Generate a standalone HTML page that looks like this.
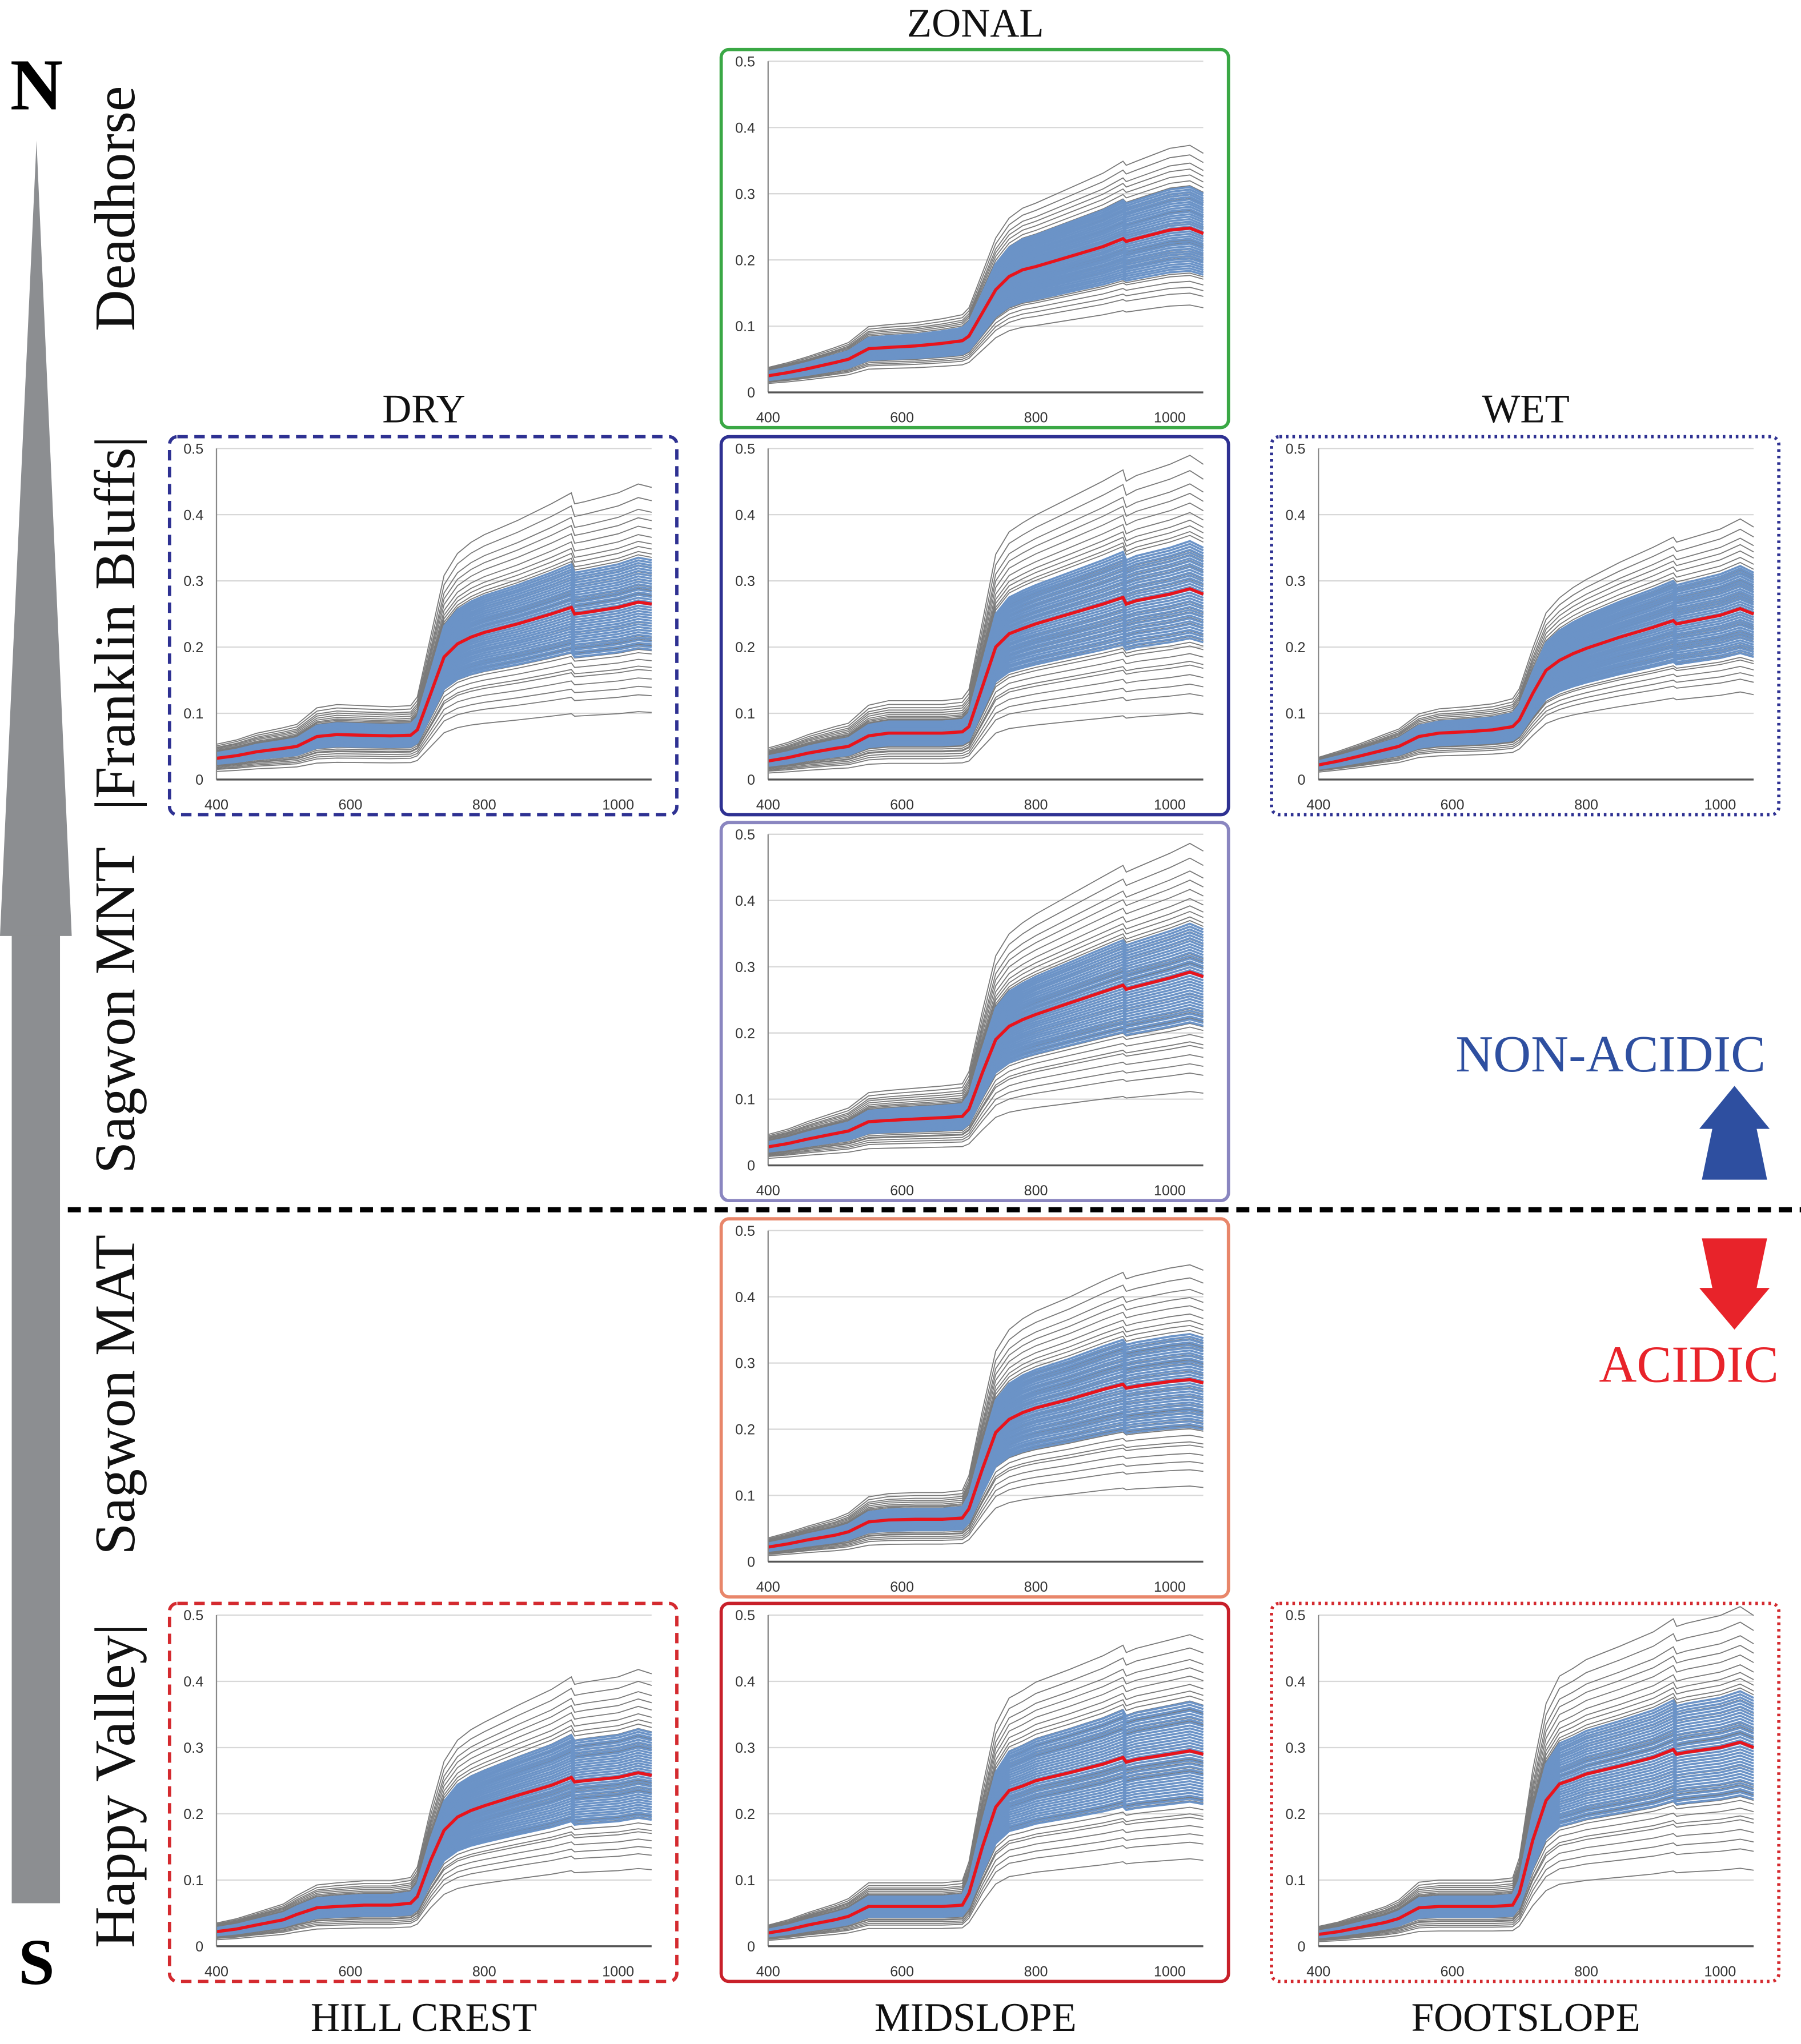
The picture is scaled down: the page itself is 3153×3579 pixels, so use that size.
<!DOCTYPE html>
<html><head><meta charset="utf-8"><style>
html,body{margin:0;padding:0;background:#fff}
svg{display:block}
</style></head><body>
<svg id="fig" xmlns="http://www.w3.org/2000/svg" width="3153" height="3579" viewBox="0 0 1381 1568" preserveAspectRatio="none">
<g>
<rect x="9" y="715" width="37" height="745" fill="#8c8e91"/>
<polygon points="0,718 55,718 28,108" fill="#8c8e91"/>
</g>
<text x="28" y="84" font-family="Liberation Serif, serif" font-weight="bold" font-size="56" text-anchor="middle">N</text>
<text x="28" y="1522" font-family="Liberation Serif, serif" font-weight="bold" font-size="50" text-anchor="middle">S</text>
<g font-family="Liberation Serif, serif" font-size="44" fill="#111" text-anchor="middle">
<text transform="translate(103,160) rotate(-90)">Deadhorse</text>
<text transform="translate(103,478) rotate(-90)">|Franklin Bluffs|</text>
<text transform="translate(103,775) rotate(-90)">Sagwon MNT</text>
<text transform="translate(103,1070) rotate(-90)">Sagwon MAT</text>
<text transform="translate(103,1370) rotate(-90)">Happy Valley|</text>
</g>
<g font-family="Liberation Serif, serif" font-size="31" fill="#111" text-anchor="middle">
<text x="748" y="28">ZONAL</text>
<text x="325" y="324">DRY</text>
<text x="1170" y="324">WET</text>
<text x="325" y="1558">HILL CREST</text>
<text x="748" y="1558">MIDSLOPE</text>
<text x="1170" y="1558">FOOTSLOPE</text>
</g>
<line x1="52" y1="928" x2="1381" y2="928" stroke="#000" stroke-width="4" stroke-dasharray="10,6"/>
<text x="1235" y="822" font-family="Liberation Serif, serif" font-size="40" fill="#2e4fa0" text-anchor="middle">NON-ACIDIC</text>
<polygon points="1330,833 1357,866 1347,866 1355,905 1305,905 1313,866 1303,866" fill="#2e4fa0"/>
<polygon points="1330,1020 1357,988 1347,988 1355,950 1305,950 1313,988 1303,988" fill="#e8232a"/>
<text x="1295" y="1060" font-family="Liberation Serif, serif" font-size="40" fill="#e8232a" text-anchor="middle">ACIDIC</text>
<g id="panels"></g>
</svg>
<script>
const wavelengths=[400,430,460,500,520,550,580,620,660,690,700,720,740,760,780,800,850,900,930,935,950,1000,1030,1050];
const redZonal=[0.025,0.03,0.036,0.045,0.05,0.066,0.068,0.07,0.074,0.078,0.085,0.12,0.155,0.175,0.185,0.19,0.205,0.22,0.232,0.228,0.232,0.245,0.248,0.24];
const redFbDry=[0.032,0.036,0.042,0.047,0.05,0.065,0.068,0.067,0.066,0.067,0.075,0.13,0.185,0.205,0.215,0.222,0.235,0.25,0.26,0.25,0.252,0.26,0.268,0.265];
const redFbMid=[0.028,0.033,0.04,0.047,0.05,0.066,0.07,0.07,0.07,0.072,0.08,0.14,0.2,0.22,0.228,0.235,0.25,0.265,0.275,0.265,0.27,0.28,0.288,0.28];
const redFbWet=[0.022,0.028,0.035,0.045,0.05,0.065,0.07,0.072,0.075,0.08,0.09,0.13,0.165,0.18,0.19,0.198,0.215,0.23,0.24,0.235,0.238,0.248,0.258,0.25];
const redMnt=[0.028,0.033,0.04,0.048,0.052,0.066,0.068,0.07,0.072,0.074,0.085,0.14,0.19,0.21,0.22,0.228,0.245,0.262,0.272,0.266,0.27,0.283,0.292,0.285];
const redMat=[0.022,0.027,0.033,0.04,0.045,0.06,0.063,0.064,0.064,0.066,0.08,0.14,0.195,0.215,0.225,0.232,0.245,0.26,0.268,0.262,0.265,0.272,0.275,0.27];
const redHvDry=[0.022,0.026,0.032,0.04,0.048,0.058,0.06,0.062,0.062,0.065,0.075,0.13,0.175,0.195,0.205,0.212,0.228,0.243,0.255,0.248,0.25,0.255,0.262,0.258];
const redHvMid=[0.02,0.025,0.032,0.04,0.045,0.06,0.06,0.06,0.06,0.062,0.08,0.15,0.21,0.235,0.242,0.25,0.262,0.275,0.285,0.278,0.282,0.29,0.295,0.29];
const redHvWet=[0.018,0.022,0.028,0.036,0.042,0.058,0.06,0.06,0.06,0.062,0.08,0.16,0.22,0.245,0.252,0.26,0.272,0.285,0.297,0.29,0.293,0.3,0.308,0.3];
const grayMult=[0.35,0.45,0.5,0.55,0.6,0.62,0.66,0.7,0.72,0.75,0.78,0.8,0.82,0.85,0.88,0.9,0.93,0.95,1.0,1.05,1.08,1.1,1.12,1.15,1.18,1.2,1.22,1.25,1.28,1.3,1.33,1.36,1.4,1.45,1.5,1.55,1.62,1.7];
const blueMult=[0.74,0.755,0.77,0.785,0.8,0.815,0.83,0.845,0.86,0.875,0.89,0.905,0.92,0.935,0.95,0.965,0.98,0.995,1.01,1.025,1.04,1.055,1.07,1.085,1.1,1.115,1.13,1.145,1.16,1.175,1.19,1.205,1.22,1.235,1.25];
const yTicks=[0,0.1,0.2,0.3,0.4,0.5];
const xTicks=[400,600,800,1000];
const panelDefs=[
 {name:'zonal-deadhorse',bx:553,by:38,color:'#3aa845',dash:'',red:redZonal,spread:0.72},
 {name:'dry-franklin-bluffs',bx:130,by:335,color:'#2e3192',dash:'8,5',red:redFbDry,spread:0.95},
 {name:'zonal-franklin-bluffs',bx:553,by:335,color:'#2e3192',dash:'',red:redFbMid,spread:1.0},
 {name:'wet-franklin-bluffs',bx:975,by:335,color:'#2e3192',dash:'2,3',red:redFbWet,spread:0.75},
 {name:'zonal-sagwon-mnt',bx:553,by:631,color:'#8a86c0',dash:'',red:redMnt,spread:0.95},
 {name:'zonal-sagwon-mat',bx:553,by:935,color:'#e8866a',dash:'',red:redMat,spread:0.9},
 {name:'dry-happy-valley',bx:130,by:1230,color:'#d42a2f',dash:'8,5',red:redHvDry,spread:0.85},
 {name:'zonal-happy-valley',bx:553,by:1230,color:'#c8202a',dash:'',red:redHvMid,spread:0.85},
 {name:'wet-happy-valley',bx:975,by:1230,color:'#d42a2f',dash:'2,3',red:redHvWet,spread:0.95}
];
const NS='http://www.w3.org/2000/svg';
const root=document.getElementById('panels');
function mk(tag,attrs,parent){const e=document.createElementNS(NS,tag);for(const k in attrs)e.setAttribute(k,attrs[k]);parent.appendChild(e);return e;}
panelDefs.forEach(p=>{
 const g=mk('g',{},root);
 
 
 const xs=w=>p.bx+36+(w-400)*308/600;
 const ys=v=>p.by+263-v*508;
 const box=mk('rect',{x:p.bx,y:p.by,width:389,height:290,rx:6,fill:'#fff',stroke:p.color,'stroke-width':2.5},g);
 if(p.dash)box.setAttribute('stroke-dasharray',p.dash);
 
 
 yTicks.forEach(t=>{
  if(t>0){const gl=mk('line',{x1:xs(400),x2:xs(1050),y1:ys(t),y2:ys(t),stroke:'#d8d8d8','stroke-width':1},g);
  
  }
  const tl=mk('text',{x:p.bx+26,y:ys(t)+4,'font-size':11,'font-family':'Liberation Sans, sans-serif','text-anchor':'end',fill:'#333'},g);
  tl.textContent=String(t);
  
  
 });
 const toPath=vals=>vals.map((v,i)=>(i?'L':'M')+xs(wavelengths[i]).toFixed(1)+','+ys(v).toFixed(1)).join('');
 grayMult.forEach(m=>{
  const mm=1+(m-1)*p.spread;
  const l=mk('path',{d:toPath(p.red.map(v=>v*mm)),fill:'none',stroke:'#7a7a7a','stroke-width':0.8},g);
  
  
 });
 blueMult.forEach(m=>{
  const l=mk('path',{d:toPath(p.red.map(v=>v*m)),fill:'none',stroke:'#6b93c7','stroke-width':1.6},g);
  
  
 });
 const r=mk('path',{d:toPath(p.red),fill:'none',stroke:'#e8141c','stroke-width':2.4},g);
 
 
 const ya=mk('line',{x1:xs(400),x2:xs(400),y1:ys(0.5),y2:ys(0),stroke:'#888','stroke-width':1},g);
 
 
 const xa=mk('line',{x1:xs(400),x2:xs(1050),y1:ys(0),y2:ys(0),stroke:'#555','stroke-width':1.5},g);
 
 
 xTicks.forEach(t=>{
  const tl=mk('text',{x:xs(t),y:p.by+286,'font-size':11,'font-family':'Liberation Sans, sans-serif','text-anchor':'middle',fill:'#333'},g);
  tl.textContent=String(t);
  
  
 });
});
</script>
</body></html>
